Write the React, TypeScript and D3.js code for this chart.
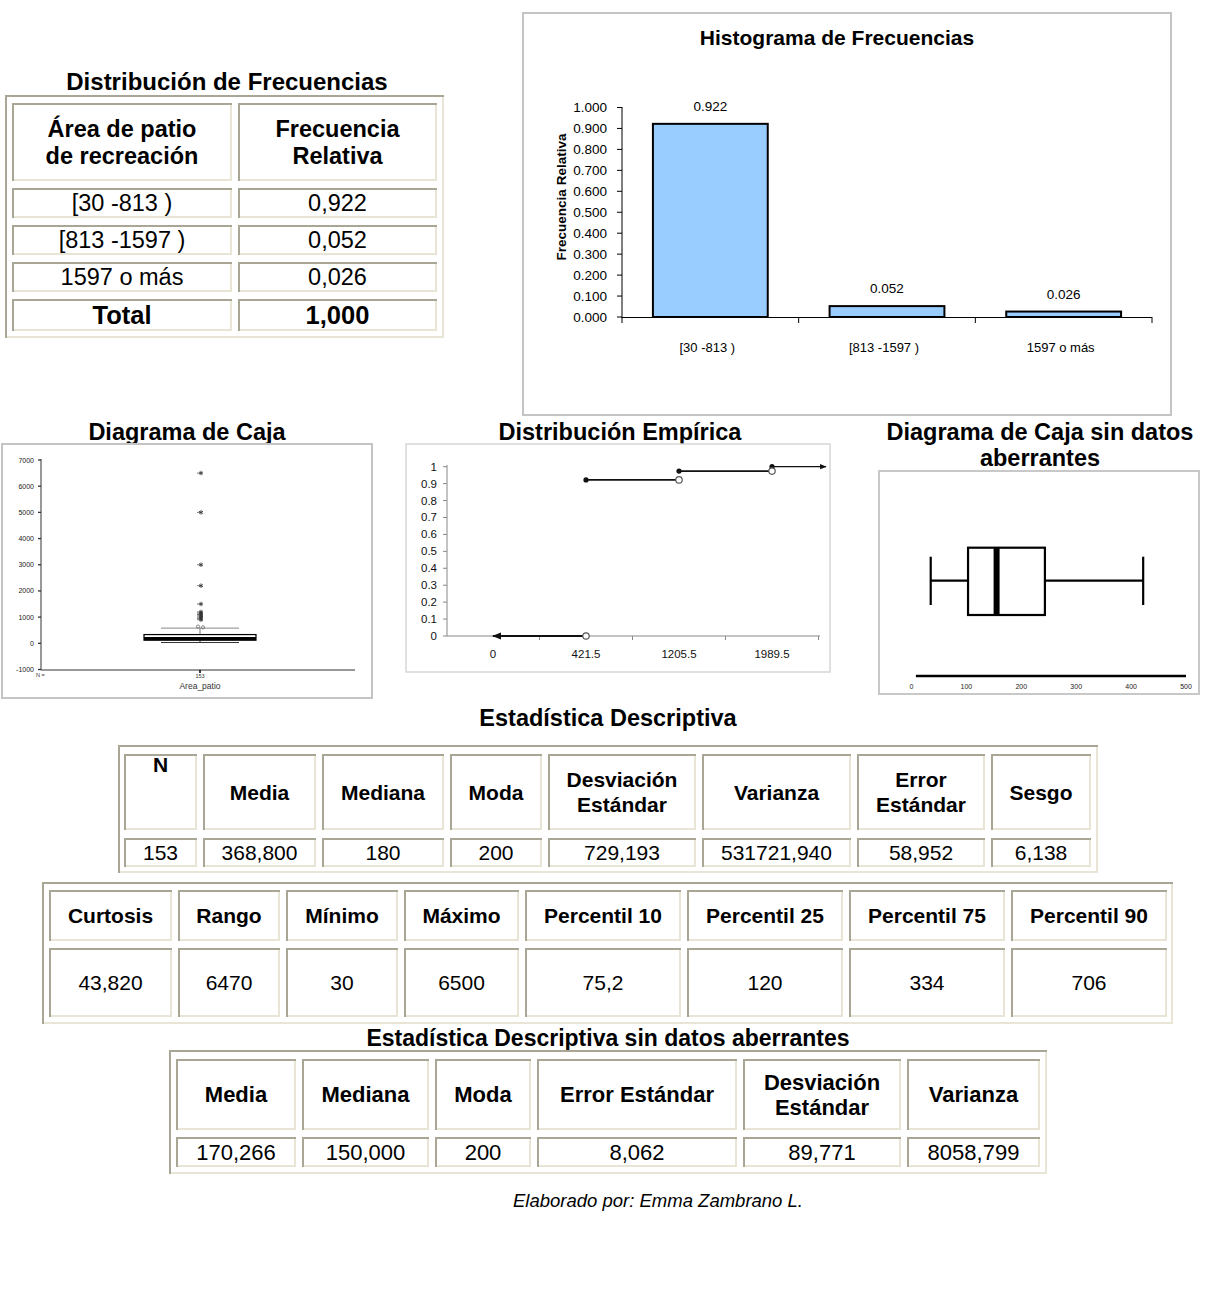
import React from 'react';
import * as d3 from 'd3';

// ---------------- DATA ----------------
const freqCategories = ['[30 -813 )', '[813 -1597 )', '1597 o más'];
const freqValues = [0.922, 0.052, 0.026];
const freqValueLabels = ['0.922', '0.052', '0.026'];
const freqTableHeader = ['Área de patio\nde recreación', 'Frecuencia\nRelativa'];
const freqTableValues = ['0,922', '0,052', '0,026'];
const freqTableTotal = ['Total', '1,000'];
const histYTicks = [0, 0.1, 0.2, 0.3, 0.4, 0.5, 0.6, 0.7, 0.8, 0.9, 1.0];

const boxYTicks = [-1000, 0, 1000, 2000, 3000, 4000, 5000, 6000, 7000];
const boxStats = { low: 30, q1: 120, median: 180, q3: 334, high: 580 };
const boxExtremes = [6500, 5000, 3000, 2200, 1500, 1200, 1150, 1100, 1050, 1000, 950, 900];
const boxOutliers = [640, 610];
const boxN = '153';
const boxVar = 'Area_patio';

const ecdfCategories = ['0', '421.5', '1205.5', '1989.5'];
const ecdfValues = [0, 0.922, 0.974, 1.0];
const ecdfYTicks = [0, 0.1, 0.2, 0.3, 0.4, 0.5, 0.6, 0.7, 0.8, 0.9, 1];

const box2Stats = { low: 35, q1: 103, median: 155, q3: 243, high: 422 };
const box2Ticks = [0, 100, 200, 300, 400, 500];

const stats1Header = ['N', 'Media', 'Mediana', 'Moda', 'Desviación\nEstándar', 'Varianza', 'Error\nEstándar', 'Sesgo'];
const stats1Values = ['153', '368,800', '180', '200', '729,193', '531721,940', '58,952', '6,138'];
const stats2Header = ['Curtosis', 'Rango', 'Mínimo', 'Máximo', 'Percentil 10', 'Percentil 25', 'Percentil 75', 'Percentil 90'];
const stats2Values = ['43,820', '6470', '30', '6500', '75,2', '120', '334', '706'];
const stats3Header = ['Media', 'Mediana', 'Moda', 'Error Estándar', 'Desviación\nEstándar', 'Varianza'];
const stats3Values = ['170,266', '150,000', '200', '8,062', '89,771', '8058,799'];

// ---------------- STYLE ----------------
const FONT = '"Liberation Sans", Arial, Helvetica, sans-serif';
const DARK = '#a9a696';
const LIGHT = '#e8e5d6';

type Cell = { text: string; size: number; weight: string; top?: boolean };

function MultiText({ x, cy, text, size, weight, top, y0 }: any) {
  const lines = text.split('\n');
  const lh = size * 1.15;
  const start = top ? y0 + size * 0.85 : cy - ((lines.length - 1) * lh) / 2 + size * 0.36;
  return (
    <text x={x} fontFamily={FONT} fontSize={size} fontWeight={weight} textAnchor="middle" fill="#000">
      {lines.map((l: string, i: number) => (
        <tspan key={i} x={x} y={start + i * lh}>{l}</tspan>
      ))}
    </text>
  );
}

function Table({ outer, cols, rows, cells }: { outer: number[]; cols: number[][]; rows: number[][]; cells: Cell[][] }) {
  const [ox, oy, ow, oh] = outer;
  return (
    <g>
      <rect x={ox} y={oy} width={ow} height={oh} fill="#fff" />
      <path d={`M${ox + 1},${oy + oh} V${oy + 1} H${ox + ow}`} stroke={DARK} strokeWidth={2} fill="none" />
      <path d={`M${ox + ow - 1},${oy + 2} V${oy + oh - 1} H${ox + 2}`} stroke={LIGHT} strokeWidth={2} fill="none" />
      {rows.map((r, ri) =>
        cols.map((c, ci) => {
          const cell = cells[ri][ci];
          return (
            <g key={ri + '-' + ci}>
              <path d={`M${c[0] + 1},${r[1]} V${r[0] + 1} H${c[1]}`} stroke={DARK} strokeWidth={2} fill="none" />
              <path d={`M${c[1] - 1},${r[0] + 2} V${r[1] - 1} H${c[0] + 2}`} stroke={LIGHT} strokeWidth={2} fill="none" />
              <MultiText x={(c[0] + c[1]) / 2} cy={(r[0] + r[1]) / 2} y0={r[0]} text={cell.text} size={cell.size} weight={cell.weight} top={cell.top} />
            </g>
          );
        })
      )}
    </g>
  );
}

function Title({ x, y, lines, size = 23 }: any) {
  return (
    <text x={x} fontFamily={FONT} fontSize={size} fontWeight="bold" textAnchor="middle">
      {lines.map((l: string, i: number) => (
        <tspan key={i} x={x} y={y + i * 26}>{l}</tspan>
      ))}
    </text>
  );
}

// ---------------- HISTOGRAM ----------------
function Histogram() {
  const x = d3.scaleBand().domain(freqCategories).range([622, 1152]).paddingInner(0.35).paddingOuter(0.175);
  const y = d3.scaleLinear().domain([0, 1]).range([317, 107.5]);
  const bounds = [0, 1, 2, 3].map(i => 622 + i * (530 / 3));
  return (
    <g>
      <rect x={523} y={13} width={648} height={402} fill="#fff" stroke="#c4c4c4" strokeWidth={2} />
      <text x={837} y={45} fontFamily={FONT} fontSize={21} fontWeight="bold" textAnchor="middle">Histograma de Frecuencias</text>
      {freqCategories.map((c, i) => (
        <g key={c}>
          <rect x={x(c)!} y={y(freqValues[i])} width={x.bandwidth()} height={y(0) - y(freqValues[i])} fill="#99CCFF" stroke="#000" strokeWidth={2} />
          <text x={x(c)! + x.bandwidth() / 2} y={y(freqValues[i]) - 13} fontFamily={FONT} fontSize={13.5} textAnchor="middle">{freqValueLabels[i]}</text>
          <text x={x(c)! + x.bandwidth() / 2 - 3} y={352} fontFamily={FONT} fontSize={13} textAnchor="middle">{c}</text>
        </g>
      ))}
      <line x1={622} x2={622} y1={107} y2={318} stroke="#000" strokeWidth={1} />
      {histYTicks.map(t => (
        <g key={t}>
          <line x1={617} x2={622} y1={y(t)} y2={y(t)} stroke="#000" />
          <text x={607} y={y(t) + 4.5} fontFamily={FONT} fontSize={13.5} textAnchor="end">{d3.format('.3f')(t)}</text>
        </g>
      ))}
      <line x1={622} x2={1152} y1={317.5} y2={317.5} stroke="#000" strokeWidth={1} />
      {bounds.map((b, i) => (
        <line key={i} x1={b} x2={b} y1={317} y2={323} stroke="#000" />
      ))}
      <text transform={`translate(566,197) rotate(-90)`} fontFamily={FONT} fontSize={13.5} fontWeight="bold" textAnchor="middle">Frecuencia Relativa</text>
    </g>
  );
}

// ---------------- SPSS BOX PLOT ----------------
function BoxPlot() {
  const y = d3.scaleLinear().domain([-1000, 7000]).range([669.5, 460]);
  const cx = 200;
  const star = d3.symbol().type(d3.symbolAsterisk).size(14)();
  const circ = d3.symbol().type(d3.symbolCircle).size(8)();
  return (
    <g>
      <rect x={2} y={444} width={370} height={254} fill="#fff" stroke="#c4c4c4" strokeWidth={2} />
      <line x1={41} x2={41} y1={459} y2={670} stroke="#333" strokeWidth={1} />
      <line x1={41} x2={355} y1={670} y2={670} stroke="#333" strokeWidth={1} />
      {boxYTicks.map(t => (
        <g key={t}>
          <line x1={38} x2={41} y1={y(t)} y2={y(t)} stroke="#333" strokeWidth={1.3} />
          <text x={34} y={y(t) + 2.5} fontFamily={FONT} fontSize={7} textAnchor="end" fill="#222">{t}</text>
        </g>
      ))}
      <line x1={cx} x2={cx} y1={670} y2={673} stroke="#000" strokeWidth={1.5} />
      <text x={36} y={677} fontFamily={FONT} fontSize={5.5} fill="#333">N =</text>
      <text x={cx} y={678} fontFamily={FONT} fontSize={5.5} textAnchor="middle" fill="#333">{boxN}</text>
      <text x={cx} y={689} fontFamily={FONT} fontSize={8.5} textAnchor="middle" fill="#333">{boxVar}</text>
      <line x1={cx} x2={cx} y1={y(boxStats.q3)} y2={y(boxStats.high)} stroke="#777" strokeWidth={1} />
      <line x1={161} x2={239} y1={y(boxStats.high)} y2={y(boxStats.high)} stroke="#888" strokeWidth={1} />
      <line x1={cx} x2={cx} y1={y(boxStats.q1)} y2={y(boxStats.low)} stroke="#333" strokeWidth={1} />
      <line x1={161} x2={239} y1={y(boxStats.low)} y2={y(boxStats.low)} stroke="#333" strokeWidth={1} />
      <rect x={144} y={y(boxStats.q3)} width={112} height={y(boxStats.q1) - y(boxStats.q3)} fill="#fff" stroke="#000" strokeWidth={1.2} />
      <line x1={144} x2={256} y1={y(boxStats.median)} y2={y(boxStats.median)} stroke="#000" strokeWidth={3} />
      <line x1={144} x2={256} y1={y(boxStats.q1) - 0.8} y2={y(boxStats.q1) - 0.8} stroke="#000" strokeWidth={1.8} />
      {boxExtremes.map((v, i) => (
        <g key={i} transform={`translate(${cx + 1},${y(v)})`}>
          <path d={star!} fill="none" stroke="#333" strokeWidth={0.9} />
          <line x1={-4} x2={-1} y1={0} y2={0} stroke="#555" strokeWidth={0.8} />
        </g>
      ))}
      {boxOutliers.map((v, i) => (
        <path key={i} d={circ!} transform={`translate(${cx + (i ? 3 : -2)},${y(v)})`} fill="none" stroke="#555" strokeWidth={0.7} />
      ))}
    </g>
  );
}

// ---------------- EMPIRICAL DISTRIBUTION ----------------
function Ecdf() {
  const x = d3.scalePoint().domain(ecdfCategories).range([493, 772]);
  const y = d3.scaleLinear().domain([0, 1]).range([636, 466.7]);
  const step = x.step();
  const last = ecdfCategories.length - 1;
  const tickXs = [0, 1, 2, 3].map(i => x(ecdfCategories[i])! + step / 2);
  return (
    <g>
      <defs>
        <marker id="arr" viewBox="0 0 10 10" refX="9" refY="5" markerWidth="5" markerHeight="5" orient="auto-start-reverse">
          <path d="M0,1 L10,5 L0,9 z" fill="#111" />
        </marker>
      </defs>
      <rect x={406} y={444} width={424} height={228} fill="#fff" stroke="#d6d6d6" strokeWidth={1.5} />
      <line x1={447} x2={447} y1={465} y2={636} stroke="#888" strokeWidth={1} />
      <line x1={447} x2={820} y1={636} y2={636} stroke="#888" strokeWidth={1} />
      {ecdfYTicks.map(t => (
        <g key={t}>
          <line x1={443} x2={447} y1={y(t)} y2={y(t)} stroke="#888" />
          <text x={437} y={y(t) + 4} fontFamily={FONT} fontSize={11.5} textAnchor="end" fill="#111">{t}</text>
        </g>
      ))}
      {tickXs.map((t, i) => (
        <line key={i} x1={t} x2={t} y1={636} y2={640} stroke="#888" />
      ))}
      {ecdfCategories.map(c => (
        <text key={c} x={x(c)!} y={658} fontFamily={FONT} fontSize={11.5} textAnchor="middle" fill="#111">{c}</text>
      ))}
      <line x1={x(ecdfCategories[1])!} x2={x(ecdfCategories[0])!} y1={y(ecdfValues[0])} y2={y(ecdfValues[0])} stroke="#111" strokeWidth={1.8} markerEnd="url(#arr)" />
      {ecdfValues.slice(1, last).map((v, k) => {
        const i = k + 1;
        const x0 = x(ecdfCategories[i])!;
        const x1 = x(ecdfCategories[i + 1])!;
        return (
          <g key={i}>
            <line x1={x0} x2={x1} y1={y(v)} y2={y(v)} stroke="#111" strokeWidth={1.8} />
            <circle cx={x0} cy={y(v)} r={2.6} fill="#111" />
          </g>
        );
      })}
      <line x1={x(ecdfCategories[last])!} x2={x(ecdfCategories[last])! + step * 0.58} y1={y(ecdfValues[last])} y2={y(ecdfValues[last])} stroke="#111" strokeWidth={1.3} markerEnd="url(#arr)" />
      <circle cx={x(ecdfCategories[last])!} cy={y(ecdfValues[last])} r={2.6} fill="#111" />
      {ecdfValues.slice(0, last).map((v, i) => (
        <circle key={i} cx={x(ecdfCategories[i + 1])!} cy={y(v)} r={3.2} fill="#fff" stroke="#555" strokeWidth={1.2} />
      ))}
    </g>
  );
}

// ---------------- BOX PLOT WITHOUT OUTLIERS ----------------
function BoxPlot2() {
  const x = d3.scaleLinear().domain([0, 500]).range([911.5, 1186]);
  const yTop = 547.7, yBot = 615, cTop = 556.7, cBot = 605, yMid = 580.7;
  return (
    <g>
      <rect x={879} y={471} width={320} height={223} fill="#fff" stroke="#c8c8c8" strokeWidth={2} />
      <line x1={x(8)} x2={x(500)} y1={676} y2={676} stroke="#000" strokeWidth={2.5} />
      {box2Ticks.map(t => (
        <text key={t} x={x(t)} y={689} fontFamily={FONT} fontSize={7} textAnchor="middle" fill="#222">{t}</text>
      ))}
      <line x1={x(box2Stats.low)} x2={x(box2Stats.q1)} y1={yMid} y2={yMid} stroke="#000" strokeWidth={2.2} />
      <line x1={x(box2Stats.q3)} x2={x(box2Stats.high)} y1={yMid} y2={yMid} stroke="#000" strokeWidth={2.2} />
      <line x1={x(box2Stats.low)} x2={x(box2Stats.low)} y1={cTop} y2={cBot} stroke="#000" strokeWidth={2.2} />
      <line x1={x(box2Stats.high)} x2={x(box2Stats.high)} y1={cTop} y2={cBot} stroke="#000" strokeWidth={2.2} />
      <rect x={x(box2Stats.q1)} y={yTop} width={x(box2Stats.q3) - x(box2Stats.q1)} height={yBot - yTop} fill="#fff" stroke="#000" strokeWidth={2.2} />
      <line x1={x(box2Stats.median)} x2={x(box2Stats.median)} y1={yTop} y2={yBot} stroke="#000" strokeWidth={6} />
    </g>
  );
}

// ---------------- APP ----------------
export default function App() {
  const hdr = (t: string, size = 21, top = false): Cell => ({ text: t, size, weight: 'bold', top });
  const val = (t: string, size = 21): Cell => ({ text: t, size, weight: 'normal' });

  const freqCells: Cell[][] = [
    freqTableHeader.map(t => hdr(t, 23.5)),
    ...freqTableValues.map((v, i) => [val(freqCategories[i], 23.5), val(v, 23.5)]),
    freqTableTotal.map(t => hdr(t, 25.5)),
  ];

  const s1: Cell[][] = [stats1Header.map((t, i) => hdr(t, 21, i === 0)), stats1Values.map(v => val(v, 21))];
  const s2: Cell[][] = [stats2Header.map(t => hdr(t, 21)), stats2Values.map(v => val(v, 21))];
  const s3: Cell[][] = [stats3Header.map(t => hdr(t, 22)), stats3Values.map(v => val(v, 22))];

  return (
    <svg width={1221} height={1299} style={{ position: 'absolute', left: 0, top: 0, background: '#fff' }}>
      <rect x={0} y={0} width={1221} height={1299} fill="#fff" />
      <Title x={227} y={90} lines={['Distribución de Frecuencias']} size={24} />
      <Table
        outer={[5, 95, 439, 243]}
        cols={[[12, 232], [238, 437]]}
        rows={[[103, 181], [188, 218], [225, 255], [262, 292], [299, 331]]}
        cells={freqCells}
      />

      <Histogram />

      <Title x={187} y={440} lines={['Diagrama de Caja']} size={23.5} />
      <BoxPlot />
      <Title x={620} y={440} lines={['Distribución Empírica']} size={23.5} />
      <Ecdf />
      <Title x={1040} y={440} lines={['Diagrama de Caja sin datos', 'aberrantes']} size={23.5} />
      <BoxPlot2 />

      <Title x={608} y={726} lines={['Estadística Descriptiva']} size={23.5} />
      <Table
        outer={[118, 745, 980, 128]}
        cols={[[124, 197], [203, 316], [322, 444], [450, 542], [548, 696], [702, 851], [857, 985], [991, 1091]]}
        rows={[[754, 830], [838, 867]]}
        cells={s1}
      />
      <Table
        outer={[42, 882, 1131, 142]}
        cols={[[49, 172], [178, 280], [286, 398], [404, 519], [525, 681], [687, 843], [849, 1005], [1011, 1167]]}
        rows={[[890, 941], [948, 1017]]}
        cells={s2}
      />
      <Title x={608} y={1046} lines={['Estadística Descriptiva sin datos aberrantes']} size={23} />
      <Table
        outer={[169, 1050, 878, 124]}
        cols={[[176, 296], [302, 429], [435, 531], [537, 737], [743, 901], [907, 1040]]}
        rows={[[1059, 1130], [1137, 1167]]}
        cells={s3}
      />

      <text x={658} y={1207} fontFamily={FONT} fontSize={18.5} fontStyle="italic" textAnchor="middle">Elaborado por: Emma Zambrano L.</text>
    </svg>
  );
}
